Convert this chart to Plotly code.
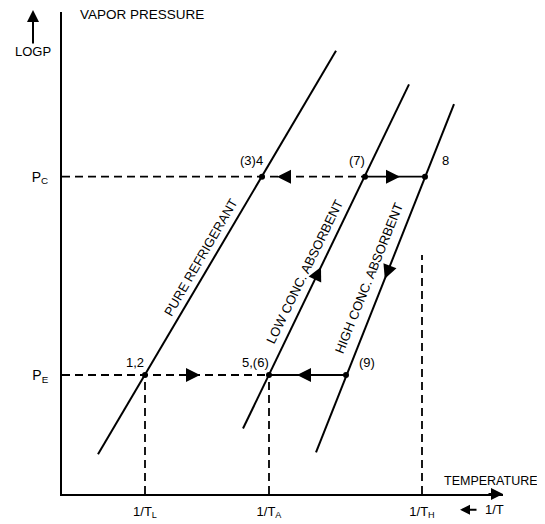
import plotly.graph_objects as go

# ---- data (x: 1/T in chart units, y: log P in chart units) ----
tick_vals_x = [83, 207, 360]
tick_text_x = ["1/T<sub>L</sub>", "1/T<sub>A</sub>", "1/T<sub>H</sub>"]
pressure_vals = [120, 320]
pressure_text = ["P<sub>E</sub>", "P<sub>C</sub>"]

pure_x = [36, 274]
pure_y = [40, 447]
low_x = [181, 347]
low_y = [66, 413]
high_x = [254, 392]
high_y = [42, 393]

state_x = [200, 303, 363, 83, 207, 284]
state_y = [320, 320, 320, 120, 120, 120]
state_labels = ["(3)4", "(7)", "8", "1,2", "5,(6)", "(9)"]
state_label_x = [189, 295, 383, 73, 193, 305]
state_label_y = [336, 336, 336, 133, 133, 133]

th_top = 241

X_MAX, Y_MAX = 441, 486

FONT = "Liberation Sans, Arial"
BLACK = "black"


def x_on(line_x, line_y, y):
    return line_x[0] + (line_x[1] - line_x[0]) * (y - line_y[0]) / (line_y[1] - line_y[0])


fig = go.Figure()

# main curves
for xs, ys in [(pure_x, pure_y), (low_x, low_y), (high_x, high_y)]:
    fig.add_trace(go.Scatter(x=xs, y=ys, mode="lines",
                             line=dict(color=BLACK, width=2), hoverinfo="skip"))

# constant-pressure lines
dash = "8px,5px"
fig.add_trace(go.Scatter(x=[0, state_x[1]], y=[pressure_vals[1]] * 2, mode="lines",
                         line=dict(color=BLACK, width=1.8, dash=dash)))
fig.add_trace(go.Scatter(x=[state_x[1], state_x[2]], y=[pressure_vals[1]] * 2, mode="lines",
                         line=dict(color=BLACK, width=1.8)))
fig.add_trace(go.Scatter(x=[0, state_x[4]], y=[pressure_vals[0]] * 2, mode="lines",
                         line=dict(color=BLACK, width=1.8, dash=dash)))
fig.add_trace(go.Scatter(x=[state_x[4], state_x[5]], y=[pressure_vals[0]] * 2, mode="lines",
                         line=dict(color=BLACK, width=1.8)))
# dashed verticals
for xv, ytop in [(tick_vals_x[0], pressure_vals[0]), (tick_vals_x[1], pressure_vals[0]),
                 (tick_vals_x[2], th_top)]:
    fig.add_trace(go.Scatter(x=[xv, xv], y=[0, ytop], mode="lines",
                             line=dict(color=BLACK, width=1.8, dash=dash)))

# state points
fig.add_trace(go.Scatter(x=state_x, y=state_y, mode="markers",
                         marker=dict(color=BLACK, size=6)))

# state labels
for t, lx, ly in zip(state_labels, state_label_x, state_label_y):
    fig.add_annotation(x=lx, y=ly, text=t, showarrow=False,
                       font=dict(family=FONT, size=13, color=BLACK))

# arrowheads along paths (tip, tail)
low_tip_y, low_tail_y = 229, 217
high_tip_y, high_tail_y = 217, 229
arrows = [
    ((215, 320), (228, 320)),   # Pc, pointing left
    ((338, 320), (326, 320)),   # Pc, pointing right
    ((138, 120), (126, 120)),   # PE, pointing right
    ((235, 120), (247, 120)),   # PE, pointing left
    ((x_on(low_x, low_y, low_tip_y), low_tip_y), (x_on(low_x, low_y, low_tail_y), low_tail_y)),
    ((x_on(high_x, high_y, high_tip_y), high_tip_y), (x_on(high_x, high_y, high_tail_y), high_tail_y)),
]
for (tx, ty), (ax_, ay_) in arrows:
    fig.add_annotation(x=tx, y=ty, ax=ax_, ay=ay_, xref="x", yref="y",
                       axref="x", ayref="y", text="", showarrow=True,
                       arrowhead=2, arrowsize=1.4, arrowwidth=2, arrowcolor=BLACK,
                       standoff=0, startstandoff=0)

# rotated curve labels
curve_labels = [("PURE REFRIGERANT", 139, 238, -60),
                ("LOW CONC. ABSORBENT", 243, 224, -64),
                ("HIGH CONC. ABSORBENT", 307, 217, -68)]
for t, lx, ly, ang in curve_labels:
    fig.add_annotation(x=lx, y=ly, text=t, showarrow=False, textangle=ang,
                       font=dict(family=FONT, size=13, color=BLACK))

# axis end arrow
fig.add_annotation(x=X_MAX, y=0, ax=425, ay=0, xref="x", yref="y", axref="x", ayref="y",
                   text="", showarrow=True, arrowhead=2, arrowsize=1.2, arrowwidth=2,
                   arrowcolor=BLACK, standoff=0)
# LOGP arrow and label (outside plot area -> paper coords)
fig.add_annotation(x=-29 / X_MAX, y=488 / Y_MAX, ax=0, ay=35, xref="paper", yref="paper",
                   text="", showarrow=True, arrowhead=2, arrowsize=1.2, arrowwidth=2,
                   arrowcolor=BLACK, standoff=0)
fig.add_annotation(x=-29 / X_MAX, y=446 / Y_MAX, xref="paper", yref="paper", text="LOGP",
                   showarrow=False, xanchor="center", yanchor="middle",
                   font=dict(family=FONT, size=13, color=BLACK))
fig.add_annotation(x=16 / X_MAX, y=483 / Y_MAX, xref="paper", yref="paper",
                   text="VAPOR PRESSURE", showarrow=False, xanchor="left", yanchor="middle",
                   font=dict(family=FONT, size=13.5, color=BLACK))
fig.add_annotation(x=429 / X_MAX, y=13 / Y_MAX, xref="paper", yref="paper",
                   text="TEMPERATURE", showarrow=False, xanchor="center", yanchor="middle",
                   font=dict(family=FONT, size=12.5, color=BLACK))
# "<- 1/T"
fig.add_annotation(x=398 / X_MAX, y=-16 / Y_MAX, ax=18, ay=0, xref="paper", yref="paper",
                   text="", showarrow=True, arrowhead=2, arrowsize=1, arrowwidth=2,
                   arrowcolor=BLACK, standoff=0)
fig.add_annotation(x=421 / X_MAX, y=-16 / Y_MAX, xref="paper", yref="paper", text="1/T",
                   showarrow=False, xanchor="left", yanchor="middle",
                   font=dict(family=FONT, size=13, color=BLACK))

fig.update_layout(
    width=537, height=516,
    margin=dict(l=54, r=42, t=4, b=26),
    plot_bgcolor="white", paper_bgcolor="white",
    showlegend=False,
    xaxis=dict(range=[0, X_MAX], showgrid=False, zeroline=False, showline=True,
               linecolor=BLACK, linewidth=2, tickvals=tick_vals_x, ticktext=tick_text_x,
               ticks="", ticklabelstandoff=4,
               tickfont=dict(family=FONT, size=13, color=BLACK), fixedrange=True),
    yaxis=dict(range=[0, Y_MAX], showgrid=False, zeroline=False, showline=True,
               linecolor=BLACK, linewidth=2, tickvals=pressure_vals, ticktext=pressure_text,
               ticks="", ticklabelstandoff=9,
               tickfont=dict(family=FONT, size=14, color=BLACK), fixedrange=True),
)

fig.write_html("out.html")
